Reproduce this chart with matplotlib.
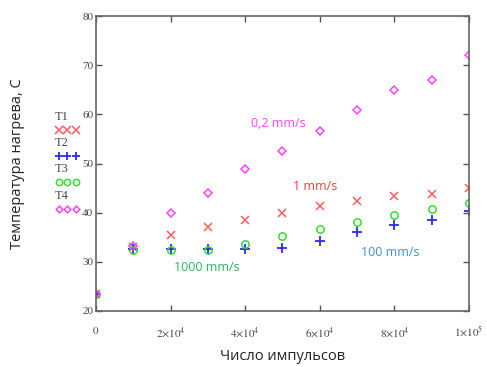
import matplotlib
matplotlib.use('Agg')
import matplotlib.pyplot as plt
from matplotlib.lines import Line2D

plt.rcParams['mathtext.fontset'] = 'stix'

# data
pulses = [0, 10000, 20000, 30000, 40000, 50000, 60000, 70000, 80000, 90000, 100000]
t1 = [23.5, 33.0, 35.5, 37.1, 38.6, 39.9, 41.3, 42.4, 43.3, 43.9, 45.0]
t2 = [23.5, 32.7, 32.7, 32.7, 32.7, 32.9, 34.2, 36.1, 37.5, 38.6, 40.3]
t3 = [23.5, 32.4, 32.4, 32.4, 33.6, 35.3, 36.7, 38.2, 39.6, 40.7, 42.0]
t4 = [23.5, 33.2, 39.9, 44.1, 48.9, 52.6, 56.7, 60.8, 64.9, 67.1, 72.1]

series_names = ['T1', 'T2', 'T3', 'T4']
speed_labels = ['1 mm/s', '100 mm/s', '1000 mm/s', '0,2 mm/s']
speed_pos = [(58700, 45.3), (78800, 32.0), (29700, 28.8), (48800, 58.2)]

x_ticks = [0, 20000, 40000, 60000, 80000, 100000]
x_tick_labels = [r'$0$', r'$2{\times}10^4$', r'$4{\times}10^4$', r'$6{\times}10^4$',
                 r'$8{\times}10^4$', r'$1{\times}10^5$']
y_ticks = [20, 30, 40, 50, 60, 70, 80]

COL_T1 = '#FF5C5C'
COL_T2 = '#2B2BFF'
COL_T3 = '#33DD33'
COL_T4 = '#FF44FF'
label_colors = ['#FF3B3B', '#3A8FD8', '#2DB35A', '#FF44FF']

styles = [
    dict(marker='x', color=COL_T1, ms=6, mew=1.1),
    dict(marker='+', color=COL_T2, ms=7, mew=1.3),
    dict(marker='o', color=COL_T3, ms=5.3, mew=1.1, mfc='none'),
    dict(marker='D', color=COL_T4, ms=4, mew=1.1, mfc='none'),
]

fig = plt.figure(figsize=(4.87, 3.67), dpi=100)
ax = fig.add_axes([0.197, 0.1526, 0.766, 0.8034])

for ys, st in zip([t1, t2, t3, t4], styles):
    ax.plot(pulses, ys, linestyle='none', **st)

for txt, (px, py), c in zip(speed_labels, speed_pos, label_colors):
    ax.text(px, py, txt, color=c, fontsize=9, ha='center', va='center',
            family='Open Sans')

ax.set_xlim(0, 100000)
ax.set_ylim(20, 80)
ax.set_xticks(x_ticks)
ax.set_xticklabels(x_tick_labels)
ax.set_yticks(y_ticks)
ax.tick_params(direction='in', top=True, right=True, length=4, width=1,
               colors='#555555', labelcolor='#444444', labelsize=8)
ax.tick_params(axis='x', pad=10)
ax.tick_params(axis='y', pad=2)
for lab in ax.get_yticklabels() + ax.get_xticklabels():
    lab.set_family('Liberation Serif')
for sp in ax.spines.values():
    sp.set_color('#666666')
    sp.set_linewidth(1.2)

ax.set_ylabel('Температура нагрева, С', fontsize=10.5, family='Open Sans',
              color='#222222')
ax.set_xlabel('Число импульсов', fontsize=10.5, family='Open Sans',
              color='#222222')
ax.yaxis.set_label_coords(-0.19, 0.5)
ax.xaxis.set_label_coords(0.5, -0.13)

# custom legend on the left
leg_y = [117, 143, 169, 196]
for name, st, yy in zip(series_names, styles, leg_y):
    fig.text(55 / 487, 1 - yy / 367, name, family='Liberation Serif', fontsize=9,
             color='#444444', ha='left', va='center')
    my = 1 - (yy + 13) / 367
    small = dict(st)
    small['ms'] = st['ms'] * 0.85
    fig.add_artist(Line2D([59 / 487, 67 / 487, 76 / 487], [my, my, my],
                          linestyle='none', transform=fig.transFigure, **small))

fig.savefig('out.png', dpi=100)
